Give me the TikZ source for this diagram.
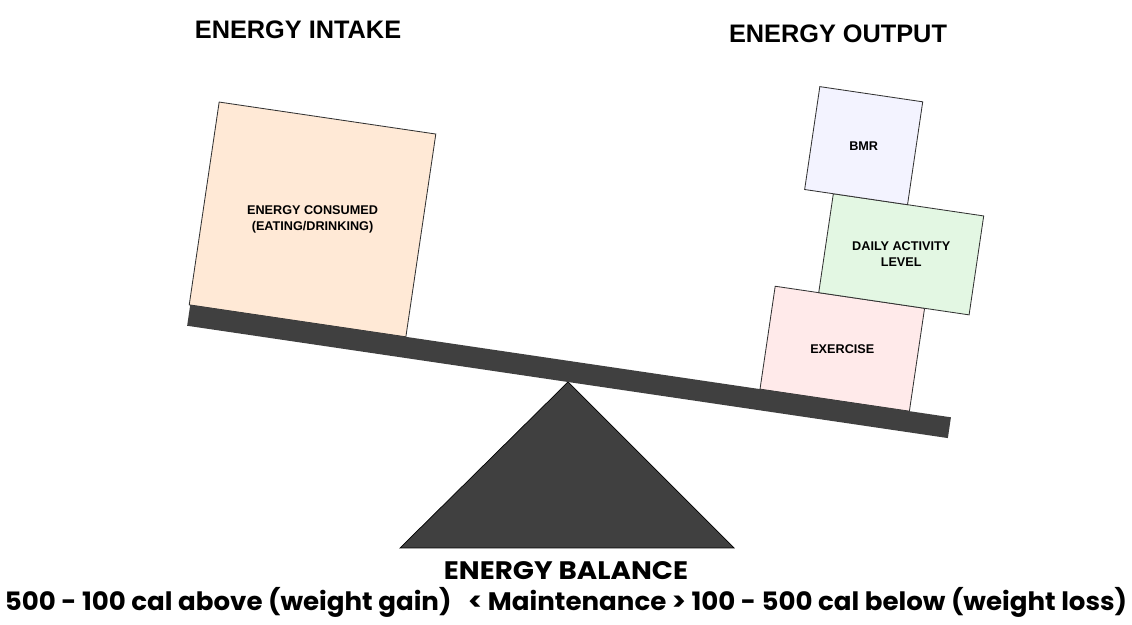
\documentclass[tikz,border=0pt]{standalone}
\usepackage{fontspec}
\usepackage{graphicx}
\setmainfont{Liberation Sans}
\newfontfamily\gothic{Poppins}
\usetikzlibrary{calc}
\definecolor{beamgray}{HTML}{404040}
\definecolor{intakefill}{HTML}{FFE9D6}
\definecolor{bmrfill}{HTML}{F3F3FF}
\definecolor{dailyfill}{HTML}{E3F7E3}
\definecolor{exercisefill}{HTML}{FFEAEA}
\tikzset{
  line join=miter,
  weight/.style={draw=black!80, line width=0.6pt},
  beam/.style={fill=beamgray},
  boxlabel/.style={font=\bfseries\fontsize{9}{11.2}\selectfont, align=center, inner sep=0pt},
  heading/.style={font=\bfseries\fontsize{18}{21}\selectfont, anchor=base, inner sep=0pt},
  caption/.style={font=\gothic\bfseries\fontsize{18}{21}\selectfont, anchor=base, inner sep=0pt}
}

\begin{document}
\begin{tikzpicture}[x=0.025cm, y=0.025cm]
  \useasboundingbox (0,0) rectangle (1132,625);
  \def\tilt{-8.4}
  \coordinate (pivot) at (568,243);

  \node[heading] (intake) at (298,586) {ENERGY INTAKE};
  \node[heading] (output) at (838,582) {ENERGY OUTPUT};

  \coordinate (baseL) at (400,77);
  \coordinate (baseR) at (734,77);
  \draw[beam, draw=black, line width=0.5pt] (baseL) -- (pivot) -- (baseR) -- cycle;

  \begin{scope}[shift={(pivot)}, rotate=\tilt]
    \draw[weight, fill=intakefill] (-386,21) rectangle (-167,226);
    \node[boxlabel] (consumed) at (-276.5,123.5) {ENERGY CONSUMED\\(EATING/DRINKING)};

    \draw[weight, fill=exercisefill] (191,21) rectangle (342,125);
    \node[boxlabel] (exercise) at (266.5,73) {EXERCISE};

    \draw[weight, fill=dailyfill] (235,125) rectangle (387,225);
    \node[boxlabel] (daily) at (311,175) {DAILY ACTIVITY\\LEVEL};

    \draw[weight, fill=bmrfill] (206,225) rectangle (310,329);
    \node[boxlabel] (bmr) at (258,277) {BMR};

    \fill[beam] (-385,0) rectangle (384,21);
  \end{scope}

  \node[caption] (balance) at (566,45) {\resizebox{6.1cm}{\height}{ENERGY BALANCE}};
  \node[caption] (range) at (566,15) {\resizebox{28.05cm}{\height}{500 - 100 cal above (weight gain) \ \ {<} Maintenance {>} 100 - 500 cal below (weight loss)}};
\end{tikzpicture}
\end{document}
